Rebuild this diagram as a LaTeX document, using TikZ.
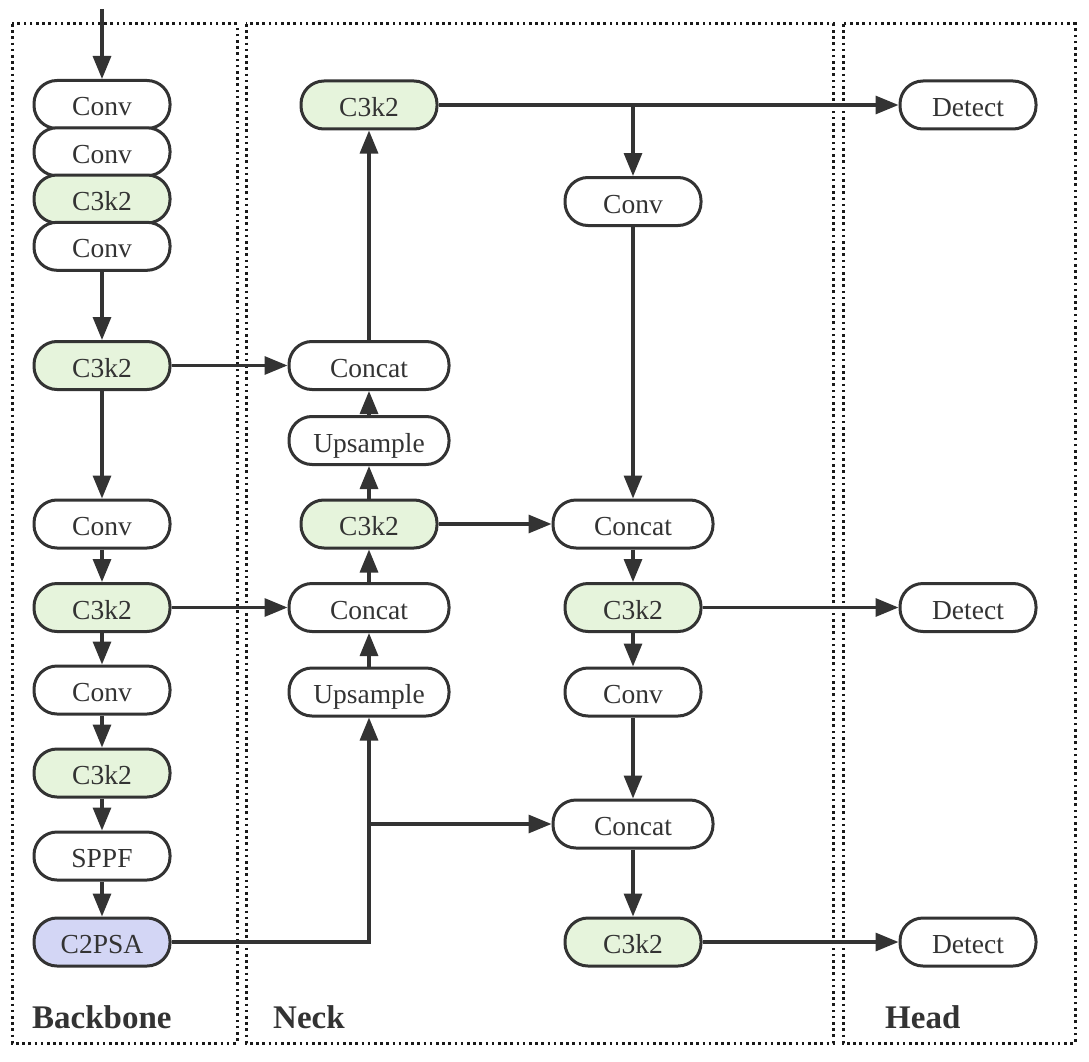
\documentclass[tikz,border=0pt]{standalone}
\usepackage{fontspec}
\setmainfont{Liberation Serif}
\usetikzlibrary{arrows.meta}
\definecolor{ink}{HTML}{333333}
\definecolor{greenfill}{HTML}{E6F4DC}
\definecolor{bluefill}{HTML}{D3D6F5}
\tikzset{
  blk/.style={draw=ink, line width=3pt, fill=white, rounded corners=23pt,
    minimum width=136pt, minimum height=48pt, inner sep=0pt, text=ink,
    font=\fontsize{27.5}{30}\selectfont, text height=23pt, text depth=0pt},
  wide/.style={blk, minimum width=160pt},
  grn/.style={blk, fill=greenfill},
  blu/.style={blk, fill=bluefill},
  arr/.style={draw=ink, line width=3.2pt, -{Triangle[length=23pt,width=18pt]}},
  clus/.style={draw=black!90, line width=3pt, dash pattern=on 2.6pt off 3.6pt},
  clab/.style={anchor=base west, text=ink, font=\fontsize{33}{36}\selectfont\bfseries, inner sep=0pt}
}
\begin{document}
\begin{tikzpicture}[x=1pt,y=-1pt]
\useasboundingbox (0,0) rectangle (1089,1062);
% clusters
\draw[clus] (12,24) rectangle (237,1043);
\draw[clus] (246,24) rectangle (833,1043);
\draw[clus] (843,24) rectangle (1075,1043);
\node[clab] (lb) at (32,1028) {Backbone};
\node[clab] (ln) at (273,1028) {Neck};
\node[clab] (lh) at (885,1028) {Head};
% backbone
\node[blk] (b1) at (102,104.5) {Conv};
\node[blk] (b2) at (102,151.8) {Conv};
\node[grn] (b3) at (102,199) {C3k2};
\node[blk] (b4) at (102,246.3) {Conv};
\node[grn] (b5) at (102,365.5) {C3k2};
\node[blk] (b6) at (102,524) {Conv};
\node[grn] (b7) at (102,607.5) {C3k2};
\node[blk] (b8) at (102,690) {Conv};
\node[grn] (b9) at (102,773) {C3k2};
\node[blk] (b10) at (102,856) {SPPF};
\node[blu] (b11) at (102,942) {C2PSA};
% neck col 1
\node[grn] (n1) at (369,105) {C3k2};
\node[wide] (n2) at (369,365.5) {Concat};
\node[wide] (n3) at (369,440.5) {Upsample};
\node[grn] (n4) at (369,524) {C3k2};
\node[wide] (n5) at (369,607.5) {Concat};
\node[wide] (n6) at (369,692) {Upsample};
% neck col 2
\node[blk] (m1) at (633,201.5) {Conv};
\node[wide] (m2) at (633,524) {Concat};
\node[grn] (m3) at (633,607.5) {C3k2};
\node[blk] (m4) at (633,692) {Conv};
\node[wide] (m5) at (633,824) {Concat};
\node[grn] (m6) at (633,942) {C3k2};
% head
\node[blk] (d1) at (968,105) {Detect};
\node[blk] (d2) at (968,607.5) {Detect};
\node[blk] (d3) at (968,942) {Detect};
% edges
\coordinate (in) at (102,9);
\draw[arr] (in) -- (b1);
\draw[arr] (b4) -- (b5);
\draw[arr] (b5) -- (b6);
\draw[arr] (b6) -- (b7);
\draw[arr] (b7) -- (b8);
\draw[arr] (b8) -- (b9);
\draw[arr] (b9) -- (b10);
\draw[arr] (b10) -- (b11);
\draw[arr] (b5) -- (n2);
\draw[arr] (b7) -- (n5);
\draw[arr] (b11) -| (n6);
\coordinate (j2) at (n6 |- m5);
\draw[arr] (j2) -- (m5);
\draw[arr] (n6) -- (n5);
\draw[arr] (n5) -- (n4);
\draw[arr] (n4) -- (n3);
\draw[arr] (n3) -- (n2);
\draw[arr] (n2) -- (n1);
\draw[arr] (n4) -- (m2);
\draw[arr] (n1) -- (d1);
\coordinate (j1) at (n1 -| m1);
\draw[arr] (j1) -- (m1);
\draw[arr] (m1) -- (m2);
\draw[arr] (m2) -- (m3);
\draw[arr] (m3) -- (m4);
\draw[arr] (m4) -- (m5);
\draw[arr] (m5) -- (m6);
\draw[arr] (m3) -- (d2);
\draw[arr] (m6) -- (d3);
\end{tikzpicture}
\end{document}
